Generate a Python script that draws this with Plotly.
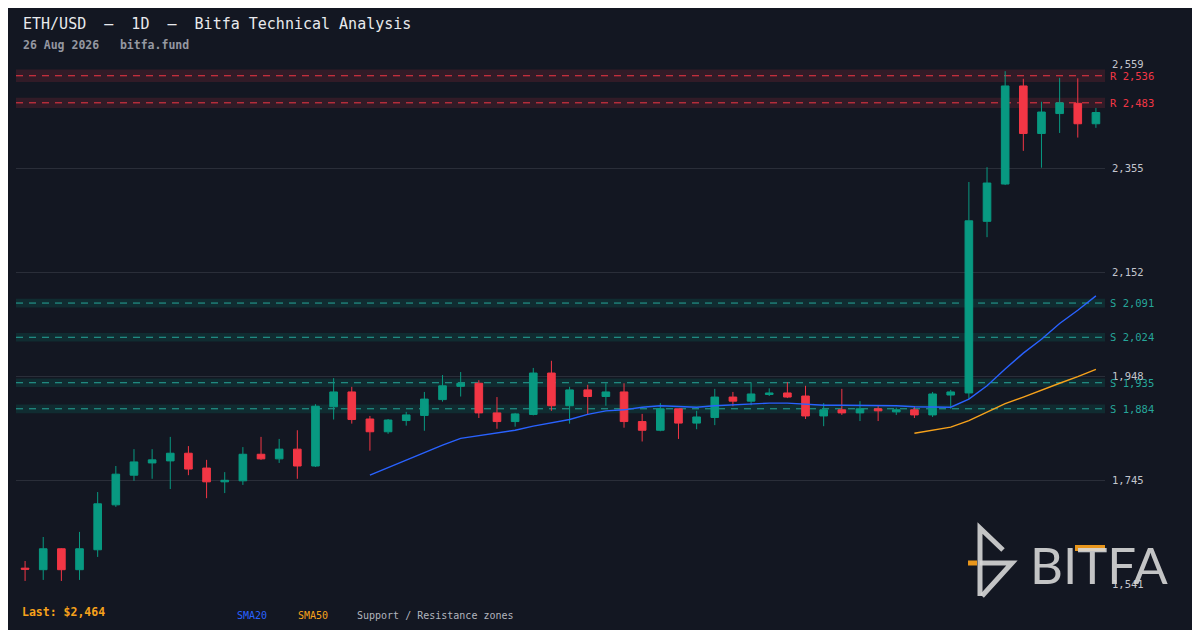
import pandas as pd
import plotly.graph_objects as go

# ---- data ----
dates = pd.date_range(end='2026-08-26', periods=60, freq='D')

opens = [1572, 1569, 1610, 1569, 1608, 1696, 1754, 1778, 1782, 1797,
         1768, 1741, 1743, 1795, 1786, 1805, 1772, 1888, 1917, 1864,
         1839, 1861, 1871, 1902, 1928, 1934, 1876, 1859, 1873, 1954,
         1890, 1921, 1908, 1917, 1859, 1842, 1884, 1856, 1867, 1907,
         1899, 1912, 1915, 1909, 1870, 1882, 1876, 1884, 1878, 1882,
         1872, 1911, 1915, 2251, 2324, 2516, 2423, 2462, 2482, 2442]
highs = [1586, 1633, 1611, 1643, 1721, 1772, 1805, 1805, 1829, 1811,
         1784, 1760, 1809, 1829, 1825, 1842, 1893, 1944, 1927, 1870,
         1864, 1878, 1917, 1950, 1956, 1940, 1907, 1876, 1964, 1978,
         1927, 1931, 1934, 1934, 1874, 1895, 1884, 1880, 1923, 1917,
         1936, 1924, 1936, 1929, 1895, 1923, 1899, 1891, 1886, 1889,
         1917, 1921, 2328, 2357, 2545, 2530, 2485, 2532, 2531, 2473]
lows = [1547, 1549, 1547, 1549, 1594, 1692, 1743, 1747, 1727, 1754,
        1709, 1719, 1735, 1784, 1778, 1747, 1770, 1863, 1855, 1802,
        1835, 1851, 1841, 1898, 1908, 1866, 1845, 1849, 1871, 1880,
        1855, 1873, 1890, 1847, 1820, 1840, 1825, 1844, 1852, 1889,
        1891, 1909, 1905, 1864, 1850, 1872, 1860, 1860, 1872, 1866,
        1868, 1884, 1903, 2220, 2322, 2389, 2356, 2424, 2415, 2434]
closes = [1570, 1610, 1569, 1610, 1698, 1756, 1780, 1784, 1797, 1766,
          1741, 1744, 1795, 1786, 1805, 1772, 1889, 1917, 1863, 1839,
          1862, 1872, 1903, 1929, 1934, 1876, 1859, 1874, 1954, 1890,
          1921, 1908, 1917, 1859, 1842, 1884, 1856, 1868, 1907, 1899,
          1913, 1915, 1907, 1870, 1882, 1876, 1884, 1880, 1882, 1872,
          1913, 1917, 2252, 2326, 2516, 2423, 2465, 2483, 2442, 2464]

# moving averages as drawn (SMA20 starts at candle 20, SMA50 at candle 50)
sma20 = [1754, 1769, 1783, 1798, 1813, 1826, 1831, 1836, 1842, 1850,
         1856, 1863, 1873, 1880, 1882, 1887, 1890, 1888, 1887, 1890,
         1892, 1894, 1895, 1895, 1893, 1891, 1891, 1891, 1891, 1890,
         1888, 1887, 1887, 1903, 1929, 1962, 1993, 2020, 2051, 2077, 2105]
sma50 = [1836, 1842, 1848, 1861, 1877, 1894, 1907, 1921, 1934, 1947, 1961]

zone_levels = [2536, 2483, 2091, 2024, 1935, 1884]
zone_kinds = ['R', 'R', 'S', 'S', 'S', 'S']
zone_half = [12, 10, 8.5, 8.5, 8.5, 8.5]

tick_vals = [1541, 1744.6, 1948.2, 2151.8, 2355.4, 2559]
tick_text = ['1,541', '1,745', '1,948', '2,152', '2,355', '2,559']

last_price = '$2,464'

# ---- style ----
BG = '#131722'
GREEN = '#089981'
RED = '#F23645'
BLUE = '#2962FF'
ORANGE = '#F7A21B'
GRID = '#2A2E39'
MONO = 'DejaVu Sans Mono'

W, H = 1200, 630
# the page puts the figure 8px in from the top-left corner
L, R, T, B = 8, 103, 56, 54
PL, PT, PW, PH = 16, 64, 1089, 520   # plot area as seen on the page


def px(x):  # page pixel -> paper x
    return (x - PL) / PW


def py(y):  # page pixel -> paper y
    return (PT + PH - y) / PH


fig = go.Figure()

fig.add_trace(go.Candlestick(
    x=dates, open=opens, high=highs, low=lows, close=closes,
    increasing=dict(line=dict(color=GREEN, width=1), fillcolor=GREEN),
    decreasing=dict(line=dict(color=RED, width=1), fillcolor=RED),
    whiskerwidth=0, name='ETH/USD', showlegend=False))

fig.add_trace(go.Scatter(x=dates[19:], y=sma20, mode='lines',
                         line=dict(color=BLUE, width=1.4), showlegend=False))
fig.add_trace(go.Scatter(x=dates[49:], y=sma50, mode='lines',
                         line=dict(color=ORANGE, width=1.4), showlegend=False))

shapes = []
annotations = []
for lvl, kind, hw in zip(zone_levels, zone_kinds, zone_half):
    col = RED if kind == 'R' else '#26A69A'
    fill = 'rgba(242,54,69,0.14)' if kind == 'R' else 'rgba(8,153,129,0.16)'
    shapes.append(dict(type='rect', xref='paper', yref='y', x0=0, x1=1,
                       y0=lvl - hw, y1=lvl + hw, fillcolor=fill,
                       line=dict(width=0), layer='between'))
    shapes.append(dict(type='line', xref='paper', yref='y', x0=0, x1=1,
                       y0=lvl, y1=lvl, layer='between',
                       line=dict(color=col, width=1, dash='7px,6px')))
    annotations.append(dict(xref='paper', yref='y', x=1, y=lvl, xanchor='left',
                            xshift=3, text=f'{kind} {lvl:,}', showarrow=False,
                            font=dict(family=MONO, size=10.5, color=col)))

# title block
annotations.append(dict(xref='paper', yref='paper', x=px(21), y=py(24),
                        xanchor='left', yanchor='middle', showarrow=False,
                        text='ETH/USD  —  1D  —  Bitfa Technical Analysis',
                        font=dict(family=MONO, size=15, color='#E8EAED')))
annotations.append(dict(xref='paper', yref='paper', x=px(21), y=py(45),
                        xanchor='left', yanchor='middle', showarrow=False,
                        text='<b>26 Aug 2026   bitfa.fund</b>',
                        font=dict(family=MONO, size=11.5, color='#9598A1')))

# bottom legend
annotations.append(dict(xref='paper', yref='paper', x=px(20), y=py(612),
                        xanchor='left', yanchor='middle', showarrow=False,
                        text=f'<b>Last: {last_price}</b>',
                        font=dict(family=MONO, size=11.5, color=ORANGE)))
for lbl, x0, col in [('SMA20', 235, BLUE), ('SMA50', 296, ORANGE),
                     ('Support / Resistance zones', 355, '#B2B5BE')]:
    annotations.append(dict(xref='paper', yref='paper', x=px(x0), y=py(615),
                            xanchor='left', yanchor='middle', showarrow=False,
                            text=lbl, font=dict(family=MONO, size=10, color=col)))

# Bitfa logo (bottom right)
LOGO = 'rgba(215,215,215,0.9)'
shapes.append(dict(type='path', xref='paper', yref='paper', layer='above',
                   path=(f'M {px(980)},{py(596)} L {px(980)},{py(528)} '
                         f'L {px(1003)},{py(550)}'),
                   line=dict(color=LOGO, width=5)))
shapes.append(dict(type='path', xref='paper', yref='paper', layer='above',
                   path=(f'M {px(980)},{py(563)} L {px(1012)},{py(563)} '
                         f'L {px(982)},{py(596)}'),
                   line=dict(color=LOGO, width=5)))
shapes.append(dict(type='line', xref='paper', yref='paper', layer='above',
                   x0=px(968), x1=px(977), y0=py(563), y1=py(563),
                   line=dict(color='#E8961C', width=5)))
annotations.append(dict(xref='paper', yref='paper', x=px(1028), y=py(564),
                        xanchor='left', yanchor='middle', showarrow=False,
                        text='BITFA', font=dict(family='Lato', size=51, color=LOGO)))
shapes.append(dict(type='rect', xref='paper', yref='paper', layer='above',
                   x0=px(1075), x1=px(1105), y0=py(551), y1=py(545),
                   fillcolor='#E8961C', line=dict(width=0)))

fig.update_layout(
    width=W, height=H,
    margin=dict(l=L, r=R, t=T, b=B),
    paper_bgcolor=BG, plot_bgcolor=BG,
    boxgap=0.4,
    shapes=shapes, annotations=annotations,
    showlegend=False,
    xaxis=dict(rangeslider=dict(visible=False), showgrid=False,
               showticklabels=False, zeroline=False, showline=False,
               range=[dates[0] - pd.Timedelta(hours=12),
                      dates[-1] + pd.Timedelta(hours=12)]),
    yaxis=dict(side='right', range=[1541, 2559], tickvals=tick_vals,
               ticktext=tick_text, gridcolor=GRID, gridwidth=1,
               zeroline=False, showline=False, ticklabelstandoff=6,
               tickfont=dict(family=MONO, size=10.5, color='#C3C6CE')),
)

fig.write_html('out.html')
